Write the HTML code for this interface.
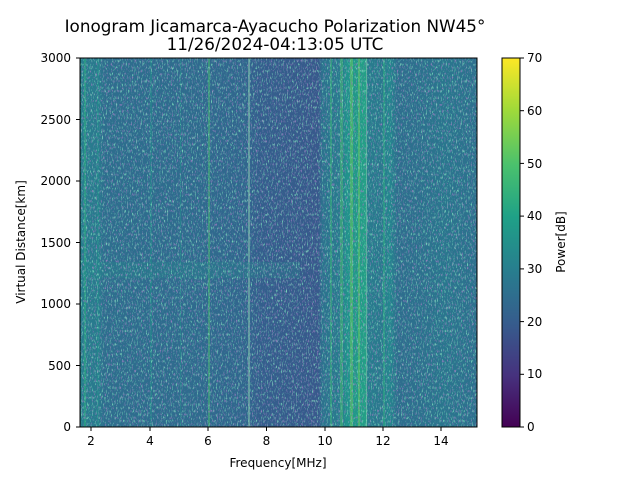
<!DOCTYPE html>
<html><head><meta charset="utf-8"><style>
body{margin:0;background:#fff;}
svg text{font-family:"DejaVu Sans","Liberation Sans",sans-serif;fill:#000;}
</style></head><body>
<svg width="640" height="480" viewBox="0 0 640 480" xmlns="http://www.w3.org/2000/svg">
<defs>
<linearGradient id="bg" x1="80" x2="477" y1="0" y2="0" gradientUnits="userSpaceOnUse">
<stop offset="0" stop-color="#277f8e"/>
<stop offset="0.05" stop-color="#2a788e"/>
<stop offset="0.06" stop-color="#2e6e8e"/>
<stop offset="0.3" stop-color="#2f6b8e"/>
<stop offset="0.42" stop-color="#31668e"/>
<stop offset="0.45" stop-color="#345f8d"/>
<stop offset="0.56" stop-color="#365b8c"/>
<stop offset="0.6" stop-color="#38598c"/>
<stop offset="0.61" stop-color="#2c728e"/>
<stop offset="0.66" stop-color="#287c8e"/>
<stop offset="0.67" stop-color="#21918c"/>
<stop offset="0.72" stop-color="#23a085"/>
<stop offset="0.725" stop-color="#287c8e"/>
<stop offset="0.76" stop-color="#2a788e"/>
<stop offset="0.78" stop-color="#24878e"/>
<stop offset="0.8" stop-color="#2e6e8e"/>
<stop offset="0.85" stop-color="#2d708e"/>
<stop offset="0.92" stop-color="#2a768e"/>
<stop offset="1" stop-color="#2d708e"/>
</linearGradient>
<filter id="nd" x="0" y="0" width="100%" height="100%">
<feTurbulence type="fractalNoise" baseFrequency="0.8 0.3" numOctaves="2" seed="3"/>
<feColorMatrix values="0 0 0 0 0.27  0 0 0 0 0.2  0 0 0 0 0.5  4 0 0 0 -2.3"/>
</filter>
<filter id="nl" x="0" y="0" width="100%" height="100%">
<feTurbulence type="fractalNoise" baseFrequency="0.8 0.3" numOctaves="2" seed="9"/>
<feColorMatrix values="0 0 0 0 0.2  0 0 0 0 0.7  0 0 0 0 0.5  4 0 0 0 -2.3"/>
</filter>
<linearGradient id="viridis" x1="0" y1="1" x2="0" y2="0">
<stop offset="0" stop-color="#440154"/><stop offset="0.14" stop-color="#46327e"/>
<stop offset="0.28" stop-color="#365c8d"/><stop offset="0.43" stop-color="#277f8e"/>
<stop offset="0.57" stop-color="#1fa187"/><stop offset="0.71" stop-color="#4ac16d"/>
<stop offset="0.86" stop-color="#a0da39"/><stop offset="1" stop-color="#fde725"/>
</linearGradient>
</defs>
<text x="275" y="32" font-size="16.8" text-anchor="middle">Ionogram Jicamarca-Ayacucho Polarization NW45°</text>
<text x="275" y="50" font-size="16.8" text-anchor="middle">11/26/2024-04:13:05 UTC</text>
<rect x="80" y="58" width="397" height="369" fill="url(#bg)"/>
<g opacity="0.5">
<rect x="84" y="58" width="2" height="369" fill="#2db27d"/>
<rect x="97" y="58" width="2" height="369" fill="#21918c"/>
<rect x="150" y="58" width="2" height="369" fill="#21918c"/>
<rect x="180" y="58" width="1" height="369" fill="#21918c"/>
<rect x="208" y="58" width="2" height="369" fill="#4ac16d"/>
<rect x="248" y="58" width="2" height="369" fill="#8fd0b0"/>
<rect x="330" y="58" width="2" height="369" fill="#3bbb75"/>
<rect x="340" y="58" width="3" height="369" fill="#4ac16d"/>
<rect x="350" y="58" width="3" height="369" fill="#6ccd5a"/>
<rect x="358" y="58" width="2" height="369" fill="#6ccd5a"/>
<rect x="366" y="58" width="1" height="369" fill="#8fd0b0"/>
<rect x="383" y="58" width="2" height="369" fill="#2db27d"/>
<rect x="80" y="262" width="220" height="16" fill="#21918c" opacity="0.5"/>
</g>
<rect x="80" y="58" width="397" height="369" filter="url(#nd)"/>
<rect x="80" y="58" width="397" height="369" filter="url(#nl)"/>
<rect x="80" y="58" width="397" height="369" fill="none" stroke="#000" stroke-width="1"/>
<g stroke="#000" stroke-width="1">
<line x1="91" y1="427" x2="91" y2="431"/><line x1="150" y1="427" x2="150" y2="431"/>
<line x1="208" y1="427" x2="208" y2="431"/><line x1="266.5" y1="427" x2="266.5" y2="431"/>
<line x1="325" y1="427" x2="325" y2="431"/><line x1="383" y1="427" x2="383" y2="431"/>
<line x1="441" y1="427" x2="441" y2="431"/>
<line x1="76" y1="427" x2="80" y2="427"/><line x1="76" y1="365.5" x2="80" y2="365.5"/>
<line x1="76" y1="304" x2="80" y2="304"/><line x1="76" y1="242.5" x2="80" y2="242.5"/>
<line x1="76" y1="181" x2="80" y2="181"/><line x1="76" y1="119.5" x2="80" y2="119.5"/>
<line x1="76" y1="58" x2="80" y2="58"/>
</g>
<g font-size="12" text-anchor="middle">
<text x="91" y="445">2</text><text x="150" y="445">4</text><text x="208" y="445">6</text>
<text x="266.5" y="445">8</text><text x="325" y="445">10</text><text x="383" y="445">12</text>
<text x="441" y="445">14</text>
</g>
<g font-size="12" text-anchor="end">
<text x="71" y="431">0</text><text x="71" y="370">500</text><text x="71" y="308">1000</text>
<text x="71" y="247">1500</text><text x="71" y="185">2000</text><text x="71" y="124">2500</text>
<text x="71" y="62">3000</text>
</g>
<text x="278" y="467" font-size="12" text-anchor="middle">Frequency[MHz]</text>
<text transform="translate(25,242) rotate(-90)" font-size="12" text-anchor="middle">Virtual Distance[km]</text>
<rect x="502" y="58" width="18" height="369" fill="url(#viridis)" stroke="#000" stroke-width="1"/>
<g stroke="#000"><line x1="520" y1="427" x2="524" y2="427"/><line x1="520" y1="374.3" x2="524" y2="374.3"/>
<line x1="520" y1="321.6" x2="524" y2="321.6"/><line x1="520" y1="268.9" x2="524" y2="268.9"/>
<line x1="520" y1="216.1" x2="524" y2="216.1"/><line x1="520" y1="163.4" x2="524" y2="163.4"/>
<line x1="520" y1="110.7" x2="524" y2="110.7"/><line x1="520" y1="58" x2="524" y2="58"/></g>
<g font-size="12">
<text x="527" y="431">0</text><text x="527" y="378">10</text><text x="527" y="326">20</text>
<text x="527" y="273">30</text><text x="527" y="220">40</text><text x="527" y="168">50</text>
<text x="527" y="115">60</text><text x="527" y="62">70</text>
</g>
<text transform="translate(565,242) rotate(-90)" font-size="12" text-anchor="middle">Power[dB]</text>
</svg>
</body></html>
